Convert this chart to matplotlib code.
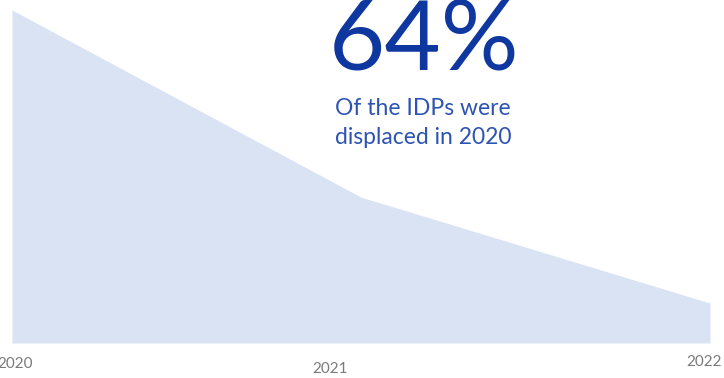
import matplotlib.pyplot as plt
import numpy as np

years = [2020, 2021, 2022]
idp_values = [100.0, 43.8, 12.0]
tick_labels = ["2020", "2021", "2022"]
headline = "64%"
caption = "Of the IDPs were\ndisplaced in 2020"

FILL = "#d9e3f3"
BLUE = "#0f37a0"
BLUE_LIGHT = "#2d53b3"
GREY = "#7a7a7a"

plt.rcParams["font.family"] = ["Lato", "DejaVu Sans"]

fig = plt.figure(figsize=(7.24, 3.78), dpi=100)
ax = fig.add_axes([12 / 724, 35 / 378, 698 / 724, 343 / 378])
ax.fill_between(years, idp_values, 0, color=FILL, linewidth=0)
ax.set_xlim(2020, 2022)
ax.set_ylim(0, 103)
ax.axis("off")

# year labels sit below the area, slightly staggered like the original
label_dy = [-0.062, -0.076, -0.056]
label_dx = [0.004, -0.044, -0.009]
for yr, lab, dy, dx in zip(years, tick_labels, label_dy, label_dx):
    ax.text((yr - 2020) / 2 + dx, dy, lab, transform=ax.transAxes,
            ha="center", va="center", fontsize=11, color=GREY)

fig.text(424 / 724, 1 - 70 / 378, headline, ha="center", va="baseline",
         fontsize=70, color=BLUE, fontweight="normal")
fig.text(423 / 724, 1 - 123 / 378, caption, ha="center", va="center",
         fontsize=16.5, color=BLUE_LIGHT, linespacing=1.5, fontweight="normal")

fig.savefig("out.png", dpi=100)
